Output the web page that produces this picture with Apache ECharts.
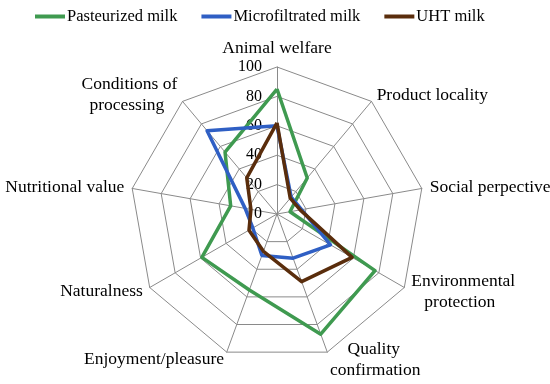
<!DOCTYPE html>
<html>
<head>
<meta charset="utf-8">
<script src="https://cdn.jsdelivr.net/npm/echarts@6/dist/echarts.min.js"></script>
<style>html,body{margin:0;padding:0;background:#fff}#c{width:550px;height:384px}</style>
</head>
<body>
<div id="c"></div>
<script>
// Data (clockwise from top)
var NB = '\u00a0';
var categories = ['Animal welfare','Product locality','Social perpective','Environmental\n' + NB+NB+NB + 'protection', NB+NB+NB+NB + 'Quality\nconfirmation','Enjoyment/pleasure','Naturalness','Nutritional value','Conditions of\nprocessing' + NB+NB+NB];
var seriesNames = ['Pasteurized milk','Microfiltrated milk','UHT milk'];
var pasteurized = [85, 32, 9, 77, 87, 55, 59, 32, 55];
var microfiltrated = [60, 15, 17, 42, 32, 30, 19, 22, 74];
var uht = [62, 14, 16, 59, 49, 27, 22, 18, 32];
var tickValues = [0, 20, 40, 60, 80, 100];

var FONT = '"Liberation Serif", "Times New Roman", serif';
// ECharts radar lays indicators out counterclockwise; reorder to draw clockwise
var order = [0,8,7,6,5,4,3,2,1];
function reorder(a){ return order.map(function(i){ return a[i]; }); }

var chart = echarts.init(document.getElementById('c'), null, {renderer:'canvas'});
var colors = ['#3f9a50','#2f5fc4','#5a2d0c'];
chart.setOption({
  animation:false,
  color: colors,
  legend: {
    top: 3, left: 30,
    itemWidth: 30, itemHeight: 4, itemGap: 24,
    icon: 'rect',
    textStyle: {fontFamily: FONT, fontSize: 16.5, color:'#000', padding:[0,0,0,-3]},
    data: seriesNames
  },
  radar: {
    center: [277, 214],
    radius: 147,
    startAngle: 90,
    shape: 'polygon',
    splitNumber: 5,
    indicator: reorder(categories).map(function(n){ return {name:n, min:0, max:100}; }),
    axisName: {color:'#000', fontFamily: FONT, fontSize: 17.5, lineHeight: 21},
    nameGap: 8,
    splitLine: {lineStyle:{color:'#8a8a8a', width:1}},
    splitArea: {show:false},
    axisLine: {lineStyle:{color:'#8a8a8a', width:1}},
    axisTick: {show:false},
    axisLabel: {show:false}
  },
  polar: {center:[277,214], radius:147},
  angleAxis: {show:false, startAngle:90, min:0, max:360},
  radiusAxis: {
    min:0, max:100, interval:20,
    axisLine:{show:false}, axisTick:{show:false}, splitLine:{show:false},
    axisLabel:{show:true, fontFamily: FONT, fontSize:16, color:'#000', margin:15,
      formatter: function(v){ return tickValues.indexOf(v) >= 0 ? String(v) : ''; }}
  },
  series: [{
    type:'radar',
    symbol:'none',
    data: [
      {name: seriesNames[0], value: reorder(pasteurized), lineStyle:{width:3.5, color:colors[0]}, itemStyle:{color:colors[0]}},
      {name: seriesNames[1], value: reorder(microfiltrated), lineStyle:{width:3.5, color:colors[1]}, itemStyle:{color:colors[1]}},
      {name: seriesNames[2], value: reorder(uht), lineStyle:{width:3.5, color:colors[2]}, itemStyle:{color:colors[2]}}
    ]
  }]
});
</script>
</body>
</html>
